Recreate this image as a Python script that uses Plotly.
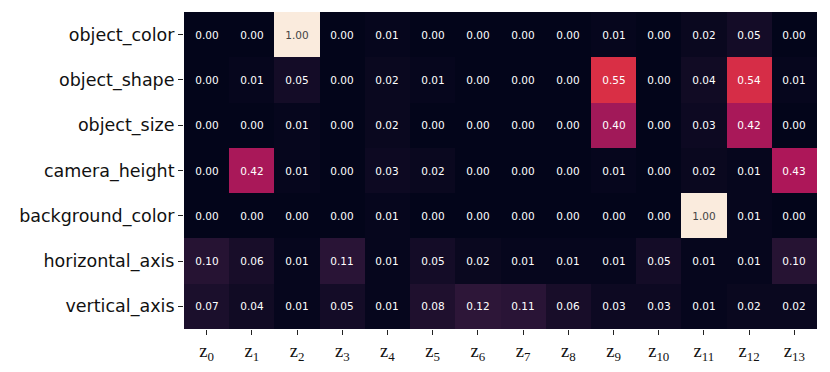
import plotly.graph_objects as go

factors = ['object_color', 'object_shape', 'object_size', 'camera_height',
           'background_color', 'horizontal_axis', 'vertical_axis']
latents = ['z<sub>%d</sub>' % i for i in range(14)]

object_color = [0.00, 0.00, 1.00, 0.00, 0.01, 0.00, 0.00, 0.00, 0.00, 0.01, 0.00, 0.02, 0.05, 0.00]
object_shape = [0.00, 0.01, 0.05, 0.00, 0.02, 0.01, 0.00, 0.00, 0.00, 0.55, 0.00, 0.04, 0.54, 0.01]
object_size = [0.00, 0.00, 0.01, 0.00, 0.02, 0.00, 0.00, 0.00, 0.00, 0.40, 0.00, 0.03, 0.42, 0.00]
camera_height = [0.00, 0.42, 0.01, 0.00, 0.03, 0.02, 0.00, 0.00, 0.00, 0.01, 0.00, 0.02, 0.01, 0.43]
background_color = [0.00, 0.00, 0.00, 0.00, 0.01, 0.00, 0.00, 0.00, 0.00, 0.00, 0.00, 1.00, 0.01, 0.00]
horizontal_axis = [0.10, 0.06, 0.01, 0.11, 0.01, 0.05, 0.02, 0.01, 0.01, 0.01, 0.05, 0.01, 0.01, 0.10]
vertical_axis = [0.07, 0.04, 0.01, 0.05, 0.01, 0.08, 0.12, 0.11, 0.06, 0.03, 0.03, 0.01, 0.02, 0.02]

z = [object_color, object_shape, object_size, camera_height,
     background_color, horizontal_axis, vertical_axis]

# approx seaborn "rocket"
rocket = [
    [0.0, '#03051A'], [0.143, '#35193e'], [0.286, '#701f57'], [0.429, '#ad1759'],
    [0.571, '#e13342'], [0.714, '#f37651'], [0.857, '#f6b48f'], [1.0, '#faebdd'],
]

fig = go.Figure(go.Heatmap(
    z=z, x=latents, y=factors, zmin=0, zmax=1,
    colorscale=rocket, showscale=False, xgap=0, ygap=0,
    texttemplate='%{z:.2f}',
    textfont=dict(family='DejaVu Sans', size=10.5),
))

fig.update_xaxes(
    automargin=False,
    ticks='outside', ticklen=5, tickwidth=1, tickcolor='#222',
    tickfont=dict(family='Liberation Serif', size=18.5, color='#111'),
    showgrid=False, zeroline=False, showline=False,
)
fig.update_yaxes(
    automargin=False,
    autorange='reversed',
    ticks='outside', ticklen=5, tickwidth=1, tickcolor='#222',
    tickfont=dict(family='DejaVu Sans', size=17.5, color='#111'),
    showgrid=False, zeroline=False, showline=False,
)
# page body adds an 8px offset, so the figure is a bit smaller
fig.update_layout(
    width=822, height=364,
    margin=dict(l=176, r=13, t=4, b=43),
    paper_bgcolor='white', plot_bgcolor='white',
)

fig.write_html("out.html")
